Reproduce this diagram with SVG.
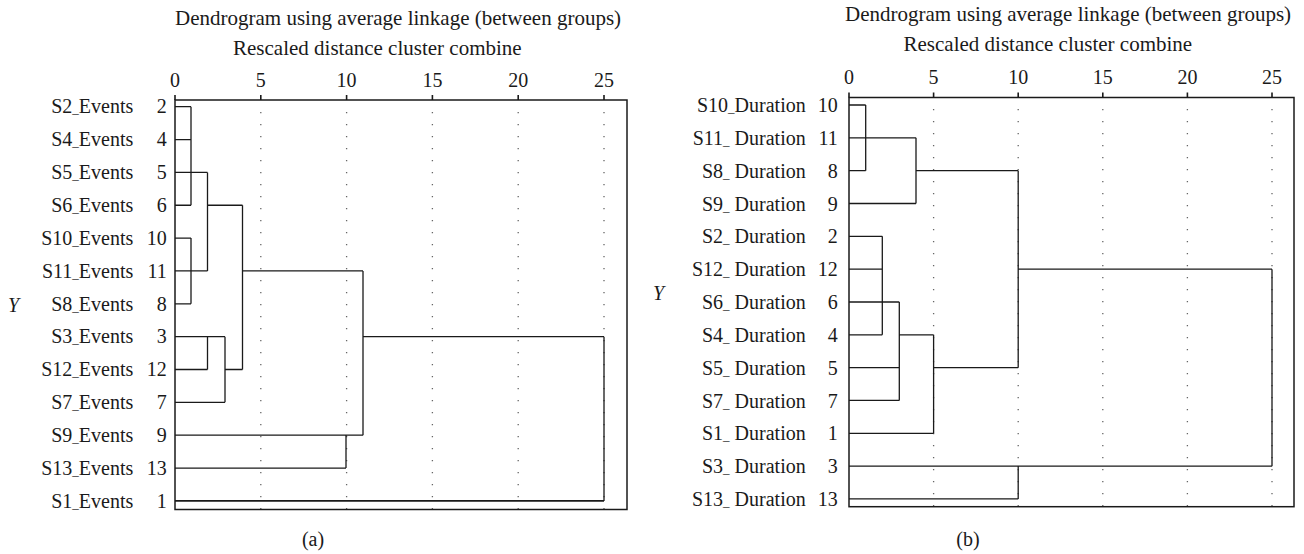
<svg xmlns="http://www.w3.org/2000/svg" width="1304" height="554" viewBox="0 0 1304 554">
<style>
text{font-family:"Liberation Serif","Times New Roman",serif;fill:#1a1a1a}
.title{font-size:21px}
.tick{font-size:20px;text-anchor:middle}
.lbl{font-size:20px;text-anchor:end}
.u{font-size:13px}
.ax{font-size:20px;font-style:italic}
.cap{font-size:20px;text-anchor:middle}
.frame{fill:none;stroke:#1a1a1a;stroke-width:1.5}
.tk{stroke:#1a1a1a;stroke-width:1.6}
.dot{stroke:#666;stroke-width:1.3;stroke-dasharray:1.3 10.7}
.link{fill:none;stroke:#1a1a1a;stroke-width:1.3}
</style>
<rect width="1304" height="554" fill="#fff"/>

<g id="panel-a">
  <text class="title" x="175" y="25">Dendrogram using average linkage (between groups)</text>
  <text class="title" x="233" y="55">Rescaled distance cluster combine</text>
  <g id="axis-a">
    <text class="tick" x="175" y="87">0</text>
    <text class="tick" x="260.8" y="87">5</text>
    <text class="tick" x="346.6" y="87">10</text>
    <text class="tick" x="432.4" y="87">15</text>
    <text class="tick" x="518.2" y="87">20</text>
    <text class="tick" x="604" y="87">25</text>
    <path class="tk" d="M175 95V100M260.8 95V100M346.6 95V100M432.4 95V100M518.2 95V100M604 95V100"/>
    <path class="dot" d="M260.8 112V509M346.6 112V509M432.4 112V509M518.2 112V509M604 112V509"/>
    <rect class="frame" x="175" y="100" width="452" height="409.5"/>
  </g>
  <text class="ax" x="8" y="312">Y</text>
  <g id="labels-a">
    <g id="a-2"><text class="lbl" x="133.3" y="113.4">S2<tspan class="u">_</tspan>Events</text><text class="lbl" x="166.7" y="113.4">2</text></g>
    <g id="a-4"><text class="lbl" x="133.3" y="146.3">S4<tspan class="u">_</tspan>Events</text><text class="lbl" x="166.7" y="146.3">4</text></g>
    <g id="a-5"><text class="lbl" x="133.3" y="179.1">S5<tspan class="u">_</tspan>Events</text><text class="lbl" x="166.7" y="179.1">5</text></g>
    <g id="a-6"><text class="lbl" x="133.3" y="212">S6<tspan class="u">_</tspan>Events</text><text class="lbl" x="166.7" y="212">6</text></g>
    <g id="a-10"><text class="lbl" x="133.3" y="244.8">S10<tspan class="u">_</tspan>Events</text><text class="lbl" x="166.7" y="244.8">10</text></g>
    <g id="a-11"><text class="lbl" x="133.3" y="277.7">S11<tspan class="u">_</tspan>Events</text><text class="lbl" x="166.7" y="277.7">11</text></g>
    <g id="a-8"><text class="lbl" x="133.3" y="310.5">S8<tspan class="u">_</tspan>Events</text><text class="lbl" x="166.7" y="310.5">8</text></g>
    <g id="a-3"><text class="lbl" x="133.3" y="343.4">S3<tspan class="u">_</tspan>Events</text><text class="lbl" x="166.7" y="343.4">3</text></g>
    <g id="a-12"><text class="lbl" x="133.3" y="376.2">S12<tspan class="u">_</tspan>Events</text><text class="lbl" x="166.7" y="376.2">12</text></g>
    <g id="a-7"><text class="lbl" x="133.3" y="409.1">S7<tspan class="u">_</tspan>Events</text><text class="lbl" x="166.7" y="409.1">7</text></g>
    <g id="a-9"><text class="lbl" x="133.3" y="441.9">S9<tspan class="u">_</tspan>Events</text><text class="lbl" x="166.7" y="441.9">9</text></g>
    <g id="a-13"><text class="lbl" x="133.3" y="474.8">S13<tspan class="u">_</tspan>Events</text><text class="lbl" x="166.7" y="474.8">13</text></g>
    <g id="a-1"><text class="lbl" x="133.3" y="507.6">S1<tspan class="u">_</tspan>Events</text><text class="lbl" x="166.7" y="507.6">1</text></g>
  </g>
  <g id="connectors-a">
    <path class="link" d="M175 106.7H191M175 139.55H191M191 106.7V205.25M175 172.4H207.5M175 205.25H191M207.5 205.25H242.5M207.5 172.4V270.95M175 238.1H191M191 238.1V303.8M175 270.95H207.5M242.5 270.95H363M175 303.8H191M242.5 205.25V369.5M175 336.65H225M363 336.65H604M207.5 336.65V369.5M175 369.5H207.5M225 369.5H242.5M225 336.65V402.35M175 402.35H225M363 270.95V435.2M175 435.2H363M346 435.2V468.05M175 468.05H346M604 336.65V500.9"/>
    <path class="link" style="stroke-width:1.8" d="M175 500.9H604"/>
  </g>
  <text class="cap" x="313" y="546">(a)</text>
</g>

<g id="panel-b">
  <text class="title" x="845" y="21">Dendrogram using average linkage (between groups)</text>
  <text class="title" x="903.5" y="51">Rescaled distance cluster combine</text>
  <g id="axis-b">
    <text class="tick" x="849" y="84">0</text>
    <text class="tick" x="933.6" y="84">5</text>
    <text class="tick" x="1018.2" y="84">10</text>
    <text class="tick" x="1102.8" y="84">15</text>
    <text class="tick" x="1187.4" y="84">20</text>
    <text class="tick" x="1272" y="84">25</text>
    <path class="tk" d="M849 92.5V97.5M933.6 92.5V97.5M1018.2 92.5V97.5M1102.8 92.5V97.5M1187.4 92.5V97.5M1272 92.5V97.5"/>
    <path class="dot" d="M933.6 109V506M1018.2 109V506M1102.8 109V506M1187.4 109V506M1272 109V506"/>
    <rect class="frame" x="849" y="97.5" width="445" height="409.2"/>
  </g>
  <text class="ax" x="653" y="300">Y</text>
  <g id="labels-b">
    <g id="b-10"><text class="lbl" x="805.7" y="112">S10<tspan class="u">_</tspan>Duration</text><text class="lbl" x="837.7" y="112">10</text></g>
    <g id="b-11"><text class="lbl" x="805.7" y="144.8">S11<tspan class="u">_</tspan> Duration</text><text class="lbl" x="837.7" y="144.8">11</text></g>
    <g id="b-8"><text class="lbl" x="805.7" y="177.7">S8<tspan class="u">_</tspan> Duration</text><text class="lbl" x="837.7" y="177.7">8</text></g>
    <g id="b-9"><text class="lbl" x="805.7" y="210.5">S9<tspan class="u">_</tspan> Duration</text><text class="lbl" x="837.7" y="210.5">9</text></g>
    <g id="b-2"><text class="lbl" x="805.7" y="243.3">S2<tspan class="u">_</tspan> Duration</text><text class="lbl" x="837.7" y="243.3">2</text></g>
    <g id="b-12"><text class="lbl" x="805.7" y="276.2">S12<tspan class="u">_</tspan> Duration</text><text class="lbl" x="837.7" y="276.2">12</text></g>
    <g id="b-6"><text class="lbl" x="805.7" y="309">S6<tspan class="u">_</tspan> Duration</text><text class="lbl" x="837.7" y="309">6</text></g>
    <g id="b-4"><text class="lbl" x="805.7" y="341.8">S4<tspan class="u">_</tspan> Duration</text><text class="lbl" x="837.7" y="341.8">4</text></g>
    <g id="b-5"><text class="lbl" x="805.7" y="374.6">S5<tspan class="u">_</tspan> Duration</text><text class="lbl" x="837.7" y="374.6">5</text></g>
    <g id="b-7"><text class="lbl" x="805.7" y="407.5">S7<tspan class="u">_</tspan> Duration</text><text class="lbl" x="837.7" y="407.5">7</text></g>
    <g id="b-1"><text class="lbl" x="805.7" y="440.3">S1<tspan class="u">_</tspan> Duration</text><text class="lbl" x="837.7" y="440.3">1</text></g>
    <g id="b-3"><text class="lbl" x="805.7" y="473.1">S3<tspan class="u">_</tspan> Duration</text><text class="lbl" x="837.7" y="473.1">3</text></g>
    <g id="b-13"><text class="lbl" x="805.7" y="506">S13<tspan class="u">_</tspan> Duration</text><text class="lbl" x="837.7" y="506">13</text></g>
  </g>
  <g id="connectors-b">
    <path class="link" d="M849 105H865.7M849 137.83H916M849 170.66H865.7M865.7 105V170.66M916 137.83V203.49M849 203.49H916M916 170.66H1018.2M849 236.32H882.3M849 269.15H882.3M1018.2 269.15H1272M849 301.98H899.3M882.3 236.32V334.81M849 334.81H882.3M899.3 334.81H933.6M899.3 301.98V400.47M849 367.64H899.3M933.6 367.64H1018.2M849 400.47H899.3M933.6 334.81V433.3M849 433.3H933.6M1018.2 170.66V367.64M1272 269.15V466.13M849 466.13H1272M849 498.96H1018.2M1018.2 466.13V498.96"/>
  </g>
  <text class="cap" x="968" y="546">(b)</text>
</g>
</svg>
